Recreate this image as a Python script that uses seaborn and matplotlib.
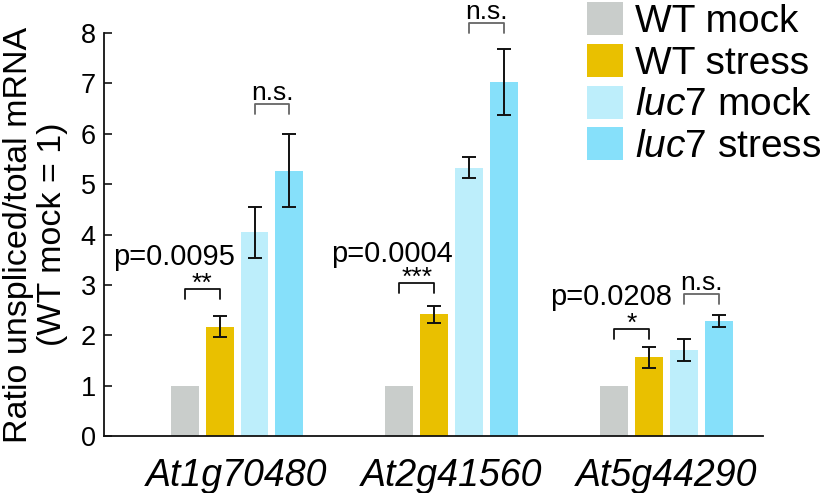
import numpy as np
import pandas as pd
import seaborn as sns
import matplotlib.pyplot as plt
from matplotlib.patches import Patch

# ---------------- data ----------------
genes = ["At1g70480", "At2g41560", "At5g44290"]
conditions = ["WT mock", "WT stress", "luc7 mock", "luc7 stress"]
legend_labels = ["WT mock", "WT stress", r"$\it{luc7}$ mock", r"$\it{luc7}$ stress"]

wt_mock = [1.0, 1.0, 1.0]
wt_stress = [2.17, 2.42, 1.56]
luc7_mock = [4.04, 5.33, 1.71]
luc7_stress = [5.27, 7.03, 2.29]

wt_mock_err = [0.0, 0.0, 0.0]
wt_stress_err = [0.21, 0.17, 0.21]
luc7_mock_err = [0.50, 0.21, 0.22]
luc7_stress_err = [0.73, 0.65, 0.12]

colors = ["#c9cdcb", "#e9c000", "#bdeefb", "#86e0fa"]

# significance annotations (WT mock vs WT stress)
sig_labels = ["**", "***", "*"]
sig_bracket_top = [2.92, 3.04, 2.13]
p_texts = ["p=0.0095", "p=0.0004", "p=0.0208"]
p_text_x = [-0.293, -0.28, -0.258]
p_text_y = [3.56, 3.62, 2.76]
# n.s. annotations (luc7 mock vs luc7 stress)
ns_bracket_top = [6.60, 8.20, 2.82]
bracket_leg = 0.2

yticks = [0, 1, 2, 3, 4, 5, 6, 7, 8]

# ---------------- build table ----------------
values = [wt_mock, wt_stress, luc7_mock, luc7_stress]
errs = [wt_mock_err, wt_stress_err, luc7_mock_err, luc7_stress_err]
rows = []
for c, vals in zip(conditions, values):
    for g, v in zip(genes, vals):
        rows.append({"gene": g, "condition": c, "value": v})
df = pd.DataFrame(rows)

sns.set_theme(style="white")
plt.rcParams["font.family"] = ["Liberation Sans", "DejaVu Sans"]
plt.rcParams["mathtext.fontset"] = "custom"
plt.rcParams["mathtext.rm"] = "Liberation Sans"
plt.rcParams["mathtext.it"] = "Liberation Sans:italic"
for k in ["text.color", "axes.labelcolor", "xtick.color", "ytick.color", "axes.edgecolor"]:
    plt.rcParams[k] = "black"

fig = plt.figure(figsize=(8.26, 4.93), dpi=100)
ax = fig.add_axes([104 / 826, 1 - 436 / 493, (763 - 104) / 826, (436 - 33) / 493])

sns.barplot(data=df, x="gene", y="value", hue="condition", order=genes,
            hue_order=conditions, palette=colors, width=0.65, gap=0.2,
            errorbar=None, legend=False, saturation=1, ax=ax, linewidth=0)

# error bars from bar geometry
centers = []
for cont, err in zip(ax.containers, errs):
    xs = [b.get_x() + b.get_width() / 2 for b in cont]
    ys = [b.get_height() for b in cont]
    centers.append(xs)
    sel = [i for i, e in enumerate(err) if e > 0]
    if sel:
        ax.errorbar([xs[i] for i in sel], [ys[i] for i in sel],
                    yerr=[err[i] for i in sel], fmt="none", ecolor="#111111",
                    elinewidth=1.4, capsize=5, capthick=1.4, zorder=5)

def bracket(x1, x2, top, color, label, fs, dy):
    ax.plot([x1, x1, x2, x2], [top - bracket_leg, top, top, top - bracket_leg],
            color=color, lw=1.3, clip_on=False, zorder=6)
    ax.text((x1 + x2) / 2, top + dy, label, ha="center", va="bottom",
            fontsize=fs, color="black", clip_on=False)

for i in range(len(genes)):
    bracket(centers[0][i], centers[1][i], sig_bracket_top[i], "#111111",
            sig_labels[i], 19, -0.14)
    bracket(centers[2][i], centers[3][i], ns_bracket_top[i], "#666666",
            "n.s.", 19, -0.03)
    ax.text(i + p_text_x[i], p_text_y[i], p_texts[i], ha="center",
            va="center", fontsize=21, clip_on=False)

ax.set_xlim(-0.62, 2.45)
ax.set_ylim(0, 8)
ax.set_yticks(yticks)
ax.set_yticklabels([str(t) for t in yticks])
ax.tick_params(axis="y", direction="in", length=6, width=1.1, pad=6,
               labelsize=19.5, left=True)
ax.tick_params(axis="x", length=0, pad=16, labelsize=27)
for lab in ax.get_xticklabels():
    lab.set_fontstyle("italic")
ax.set_xlabel("")
ax.set_ylabel("Ratio unspliced/total mRNA\n(WT mock = 1)", fontsize=24.5,
              labelpad=9, linespacing=1.12)
for s in ["top", "right"]:
    ax.spines[s].set_visible(False)
for s in ["left", "bottom"]:
    ax.spines[s].set_color("#111111")
    ax.spines[s].set_linewidth(1.3)

handles = [Patch(facecolor=c, edgecolor="none") for c in colors]
fig.legend(handles, legend_labels, loc="upper left",
           bbox_to_anchor=(587 / 826, 1 - 2 / 493), frameon=False,
           fontsize=28, handlelength=0.93, handleheight=0.93,
           handletextpad=0.3, labelspacing=0.1, borderpad=0, borderaxespad=0)

fig.savefig("out.png", dpi=100)
